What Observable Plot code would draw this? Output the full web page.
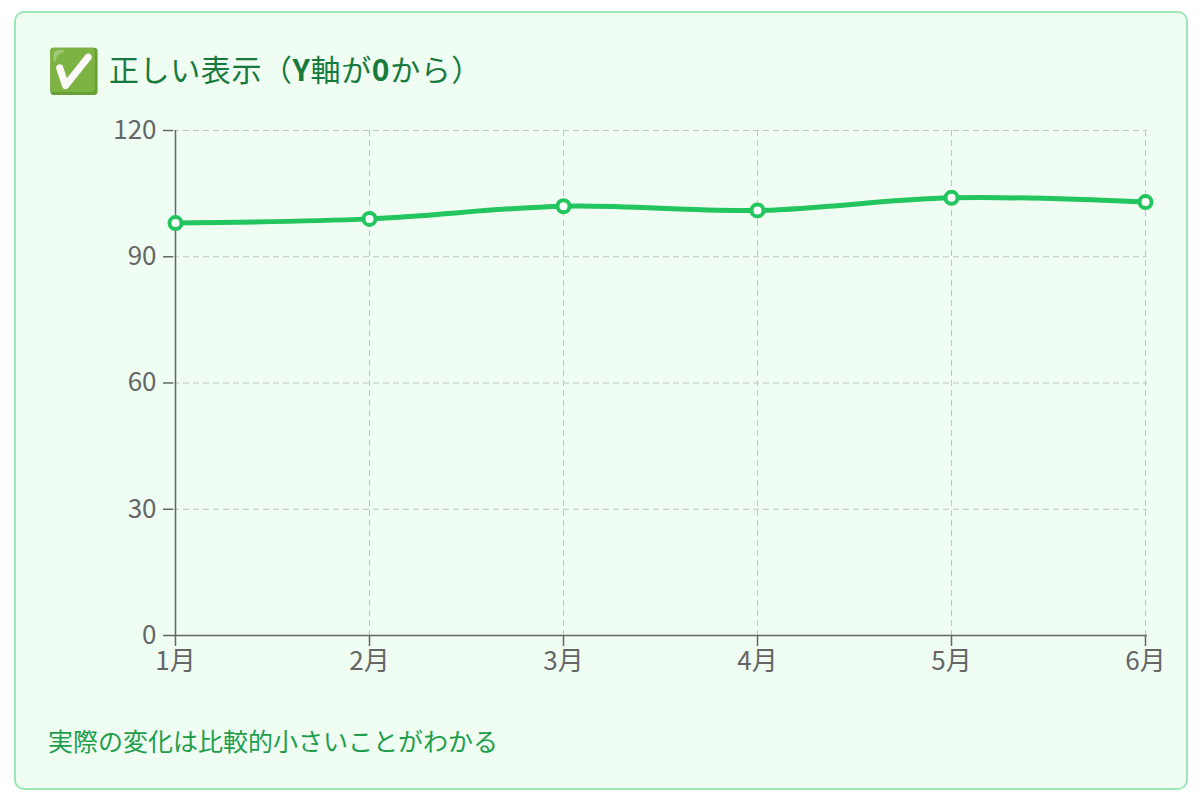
<!DOCTYPE html>
<html><head><meta charset="utf-8">
<script src="https://cdn.jsdelivr.net/npm/d3@7"></script>
<script src="https://cdn.jsdelivr.net/npm/@observablehq/plot@0.6"></script>
<style>
html,body{margin:0;padding:0;background:#fff;width:1200px;height:807px;overflow:hidden;font-family:"Noto Sans CJK JP","Noto Sans",sans-serif;}
#card{position:absolute;left:14px;top:11px;width:1170px;height:775px;border:2px solid #9be8b4;border-radius:10px;background:#effdf3;}
#title{position:absolute;left:47px;top:44px;font-size:30px;letter-spacing:0.6px;color:#177a3c;font-weight:400;white-space:nowrap;line-height:46px;}
#title .emo{font-size:43px;vertical-align:-5px;margin-right:8px;letter-spacing:0;}
#caption{position:absolute;left:48px;top:723px;font-size:25px;color:#1e9e4a;white-space:nowrap;line-height:34px;}
#chart{position:absolute;left:0;top:0;}
</style></head>
<body>
<div id="card"></div>
<div id="title"><span class="emo">✅</span>正しい表示（<b>Y</b>軸が<b>0</b>から）</div>
<div id="chart"></div>
<div id="caption">実際の変化は比較的小さいことがわかる</div>
<script>
const months = ["1月","2月","3月","4月","5月","6月"];
const values = [98, 99, 102, 101, 104, 103];
const yTicks = [0, 30, 60, 90, 120];
const data = months.map((m,i)=>({month:m, value:values[i]}));

const chart = Plot.plot({
  width: 1200,
  height: 690,
  marginLeft: 173,
  marginRight: 53,
  marginTop: 130,
  marginBottom: 55,
  style: {background:"transparent", fontFamily:'"Noto Sans CJK JP","Noto Sans",sans-serif', fontSize:"26px", color:"#666"},
  x: {type:"point", domain: months, padding: 0, label: null},
  y: {domain:[0,120], ticks: yTicks, label: null},
  marks: [
    Plot.gridY(yTicks, {stroke:"#c4c4c4", strokeOpacity:1, strokeDasharray:"6,4"}),
    Plot.gridX(months, {stroke:"#c4c4c4", strokeOpacity:1, strokeDasharray:"6,4"}),
    Plot.axisY(yTicks, {tickSize:10, tickPadding:7, stroke:"#666", fill:"#666", fontSize:26, strokeWidth:1.5}),
    Plot.axisX(months, {tickSize:11, tickPadding:5, stroke:"#666", fill:"#666", fontSize:26, strokeWidth:1.5}),
    Plot.ruleY([0], {stroke:"#666", strokeWidth:1.5}),
    Plot.ruleX([months[0]], {stroke:"#666", strokeWidth:1.5}),
    Plot.line(data, {x:"month", y:"value", stroke:"#22c55e", strokeWidth:5, curve:"catmull-rom"}),
    Plot.dot(data, {x:"month", y:"value", r:6, fill:"#fff", stroke:"#22c55e", strokeWidth:4})
  ]
});
document.getElementById("chart").appendChild(chart);
</script>
</body></html>
